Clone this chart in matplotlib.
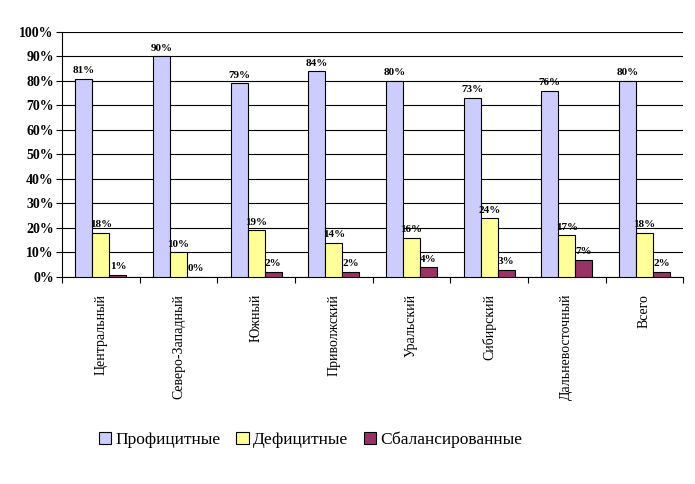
import numpy as np
from matplotlib import pyplot as plt

regions = ['Центральный', 'Северо-Западный', 'Южный', 'Приволжский',
           'Уральский', 'Сибирский', 'Дальневосточный', 'Всего']
profit = [81, 90, 79, 84, 80, 73, 76, 80]
deficit = [18, 10, 19, 14, 16, 24, 17, 18]
balanced = [1, 0, 2, 2, 4, 3, 7, 2]
series_names = ['Профицитные', 'Дефицитные', 'Сбалансированные']
colors = ['#ccccff', '#ffff99', '#993366']

plt.rcParams['font.family'] = ['Liberation Serif', 'DejaVu Serif']

fig = plt.figure(figsize=(6.95, 4.84), dpi=100)
ax = fig.add_axes([0.0892, 0.4277, 0.894, 0.5062])

x = np.arange(len(regions))
w = 0.22
for k, (vals, name, col) in enumerate(zip([profit, deficit, balanced], series_names, colors)):
    pos = x + (k - 1) * w
    bars = ax.bar(pos, vals, w, color=col, edgecolor='black', linewidth=0.8, label=name, zorder=3)
    for p, v in zip(pos, vals):
        ax.text(p, v + 1.5, '%d%%' % v, ha='center', va='bottom', fontsize=8,
                fontweight='bold', zorder=4)

ax.set_xlim(-0.5, len(regions) - 0.5)
ax.set_ylim(0, 100)
ax.set_yticks(range(0, 101, 10))
ax.set_yticklabels(['%d%%' % v for v in range(0, 101, 10)], fontsize=10, fontweight='bold')
ax.yaxis.grid(True, color='black', linewidth=0.8, zorder=0)
ax.set_axisbelow(True)

ax.set_xticks(np.arange(-0.5, len(regions)), minor=False)
ax.set_xticklabels([])
ax.set_xticks(x, minor=True)
ax.set_xticklabels(regions, minor=True, rotation=90, fontsize=10, va='top')
ax.tick_params(axis='x', which='minor', length=0, pad=12)
ax.tick_params(axis='x', which='major', length=4, direction='out', color='black')
ax.tick_params(axis='y', length=4, direction='out', pad=2)

for s in ['top', 'right']:
    ax.spines[s].set_visible(False)
ax.spines['left'].set_linewidth(0.8)
ax.spines['bottom'].set_linewidth(0.8)

fig.legend(loc='center', bbox_to_anchor=(0.447, 0.091), ncol=3, frameon=False,
           fontsize=12.5, handlelength=0.7, handleheight=0.7, handletextpad=0.25,
           columnspacing=0.9)

fig.savefig('out.png', dpi=100)
